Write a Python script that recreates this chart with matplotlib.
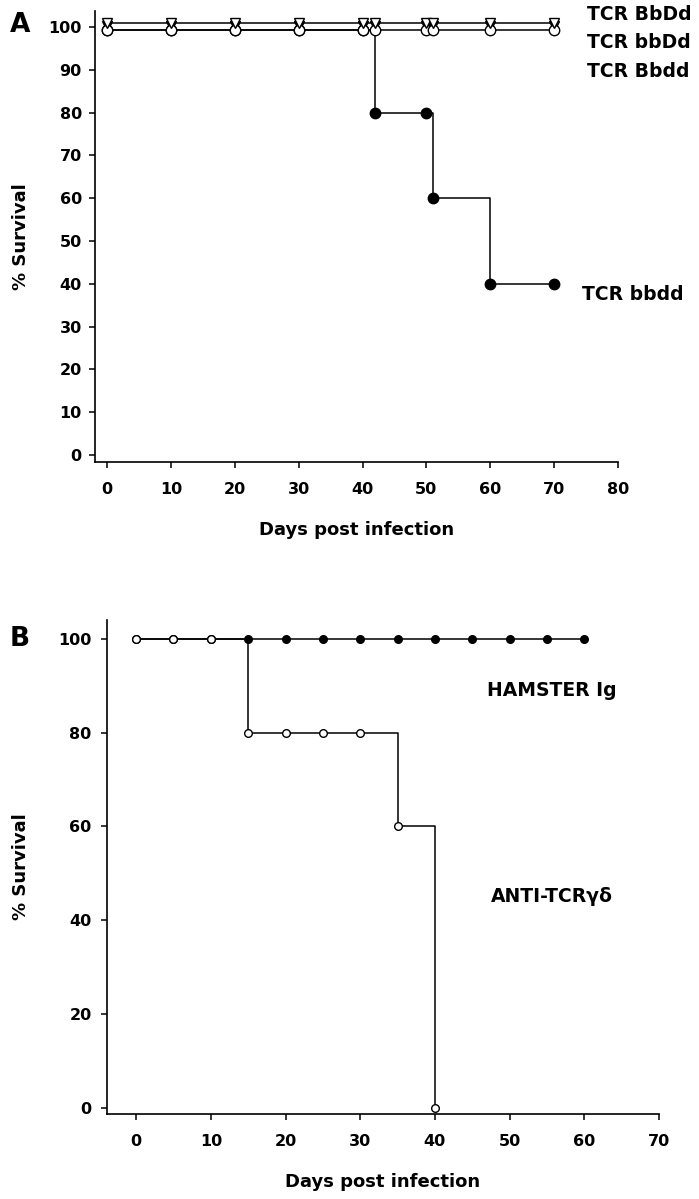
import matplotlib
matplotlib.use("Agg")
import matplotlib.pyplot as plt

plt.rcParams['font.family'] = ['DejaVu Sans']
plt.rcParams['font.weight'] = 'bold'

# ---------------- Panel A data ----------------
days_a = [0, 10, 20, 30, 40, 42, 50, 51, 60, 70]
surv_BbDd = [100, 100, 100, 100, 100, 100, 100, 100, 100, 100]
surv_bbDd = [100, 100, 100, 100, 100, 100, 100, 100, 100, 100]
surv_Bbdd = [100, 100, 100, 100, 100, 100, 100, 100, 100, 100]
surv_bbdd = [100, 100, 100, 100, 100, 80, 80, 60, 40, 40]
labels_a = ["TCR BbDd", "TCR bbDd", "TCR Bbdd", "TCR bbdd"]
xticks_a = [0, 10, 20, 30, 40, 50, 60, 70, 80]
yticks_a = [0, 10, 20, 30, 40, 50, 60, 70, 80, 90, 100]

# ---------------- Panel B data ----------------
days_ham = [0, 5, 10, 15, 20, 25, 30, 35, 40, 45, 50, 55, 60]
surv_ham = [100, 100, 100, 100, 100, 100, 100, 100, 100, 100, 100, 100, 100]
days_anti = [0, 5, 10, 15, 20, 25, 30, 35, 40]
surv_anti = [100, 100, 100, 80, 80, 80, 80, 60, 0]
labels_b = ["HAMSTER Ig", "ANTI-TCR\u03b3\u03b4"]
xticks_b = [0, 10, 20, 30, 40, 50, 60, 70]
yticks_b = [0, 20, 40, 60, 80, 100]

fig = plt.figure(figsize=(6.99, 11.99), dpi=100)

TICK_FS = 11.5
LABEL_FS = 13
ANN_FS = 13.5


def style_axes(ax, ypad):
    for s in ("top", "right"):
        ax.spines[s].set_visible(False)
    for s in ("left", "bottom"):
        ax.spines[s].set_linewidth(1.2)
    ax.tick_params(direction="out", length=4.5, width=1.1, labelsize=TICK_FS)
    ax.tick_params(axis="x", pad=10)
    ax.tick_params(axis="y", pad=ypad)
    for lab in ax.get_xticklabels() + ax.get_yticklabels():
        lab.set_fontweight("bold")


# ---------------- Panel A ----------------
axA = fig.add_axes([0.1359, 0.6147, 0.7482, 0.3761])
lw = 1.1
off_hi, off_mid, off_lo = 0.8, 0.2, -0.8
# at 100 % the curves are drawn slightly apart so they stay visible
bbdd_plot = [v + off_lo if v == 100 else v for v in surv_bbdd]
axA.plot(days_a, bbdd_plot, drawstyle="steps-post", color="black",
         lw=lw, marker="o", ms=7.5, mfc="black", mec="black", zorder=2)
axA.plot(days_a, [v + off_mid for v in surv_bbDd], ls="none", color="black",
         marker="v", ms=7.5, mfc="black", mec="black", zorder=3)
axA.plot(days_a, [v + off_lo for v in surv_Bbdd], drawstyle="steps-post", color="black",
         lw=lw, marker="o", ms=7.5, mfc="white", mec="black", mew=1.0, zorder=4)
axA.plot(days_a, [v + off_hi for v in surv_BbDd], drawstyle="steps-post", color="black",
         lw=lw, marker="v", ms=7.5, mfc="white", mec="black", mew=1.0, zorder=5)

axA.set_xlim(-1.9, 80)
axA.set_ylim(-1.6, 103.7)
axA.set_xticks(xticks_a)
axA.set_yticks(yticks_a)
style_axes(axA, 5)
axA.set_xlabel("Days post infection", fontsize=LABEL_FS, fontweight="bold")
axA.set_ylabel("% Survival", fontsize=LABEL_FS, fontweight="bold")
axA.xaxis.set_label_coords(0.5, -0.131)
axA.yaxis.set_label_coords(-0.124, 0.5)

axA.text(75.1, 102.8, labels_a[0], fontsize=ANN_FS, fontweight="bold", va="center", ha="left")
axA.text(75.1, 96.3, labels_a[1], fontsize=ANN_FS, fontweight="bold", va="center", ha="left")
axA.text(75.1, 89.5, labels_a[2], fontsize=ANN_FS, fontweight="bold", va="center", ha="left")
axA.text(74.3, 37.4, labels_a[3], fontsize=ANN_FS, fontweight="bold", va="center", ha="left")

# ---------------- Panel B ----------------
axB = fig.add_axes([0.1531, 0.0709, 0.7897, 0.4120])
axB.plot(days_ham, surv_ham, drawstyle="steps-post", color="black", lw=lw,
         marker="o", ms=5.5, mfc="black", mec="black", zorder=2)
axB.plot(days_anti, surv_anti, drawstyle="steps-post", color="black", lw=lw,
         marker="o", ms=5.5, mfc="white", mec="black", mew=1.0, zorder=3)
axB.set_xlim(-3.9, 70)
axB.set_ylim(-1.3, 104)
axB.set_xticks(xticks_b)
axB.set_yticks(yticks_b)
style_axes(axB, 6.5)
axB.set_xlabel("Days post infection", fontsize=LABEL_FS, fontweight="bold")
axB.set_ylabel("% Survival", fontsize=LABEL_FS, fontweight="bold")
axB.xaxis.set_label_coords(0.5, -0.119)
axB.yaxis.set_label_coords(-0.14, 0.5)

axB.text(47, 89, labels_b[0], fontsize=ANN_FS, fontweight="bold", va="center", ha="left")
axB.text(47.5, 45, labels_b[1], fontsize=ANN_FS, fontweight="bold", va="center", ha="left")

# Panel letters
fig.text(0.0286, 0.979, "A", fontsize=19, fontweight="bold", ha="center", va="center")
fig.text(0.0286, 0.467, "B", fontsize=19, fontweight="bold", ha="center", va="center")

fig.savefig("out.png", dpi=100)
